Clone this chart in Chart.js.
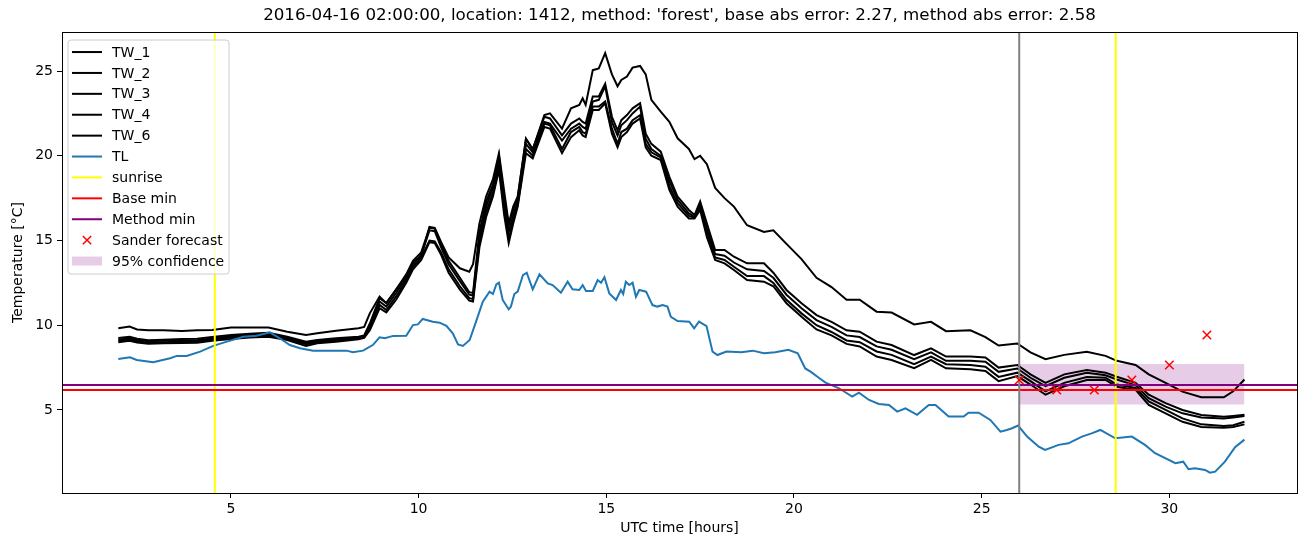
<!DOCTYPE html>
<html>
<head>
<meta charset="utf-8">
<script src="https://cdn.jsdelivr.net/npm/chart.js@4.4.0/dist/chart.umd.min.js"></script>
<style>
  html, body { margin: 0; padding: 0; background: #ffffff; }
  #wrap { width: 1310px; height: 547px; }
</style>
</head>
<body>
<div id="wrap"><canvas id="chart" width="1310" height="547"></canvas></div>
<script>
"use strict";

// ---- data ----
var titleText = "2016-04-16 02:00:00, location: 1412, method: 'forest', base abs error: 2.27, method abs error: 2.58";

var twHours = [2.0, 2.3, 2.5, 2.8, 3.2, 3.7, 4.1, 4.5, 5.0, 5.5,
  6.0, 6.5, 7.0, 7.3, 7.8, 8.4, 8.55, 8.7, 8.96, 9.14,
  9.4, 9.67, 9.85, 10.07, 10.29, 10.43, 10.6, 10.8, 11.1, 11.35,
  11.45, 11.62, 11.8, 11.98, 12.14, 12.28, 12.4, 12.52, 12.64, 12.86,
  13.04, 13.35, 13.5, 13.82, 14.06, 14.28, 14.37, 14.45, 14.64, 14.8,
  14.97, 15.15, 15.3, 15.4, 15.55, 15.7, 15.9, 16.05, 16.2, 16.45,
  16.68, 16.9, 17.2, 17.35, 17.5, 17.68, 17.9, 18.15, 18.4, 18.75,
  19.2, 19.45, 19.8, 20.2, 20.6, 21.0, 21.4, 21.75, 22.2, 22.6,
  23.2, 23.65, 24.05, 24.7, 25.1, 25.45, 25.95, 26.3, 26.7, 27.2,
  27.8, 28.3, 28.6, 29.1, 29.45, 29.9, 30.35, 30.85, 31.45, 31.7, 32.0];

var tw1 = [9.82, 9.92, 9.75, 9.7, 9.7, 9.66, 9.7, 9.72, 9.86, 9.86,
  9.86, 9.62, 9.42, 9.52, 9.68, 9.82, 9.9, 10.7, 11.69, 11.3,
  12.1, 12.9, 13.7, 14.1, 15.8, 15.75, 14.9, 14.0, 13.36, 13.16,
  13.6, 16.0, 17.6, 18.6, 20.14, 17.9, 16.0, 17.0, 17.6, 21.0,
  20.35, 22.4, 22.5, 21.6, 22.8, 23.0, 23.39, 23.0, 25.05, 25.15,
  26.05, 24.8, 24.1, 24.47, 24.67, 25.2, 25.3, 24.8, 23.3, 22.6,
  22.0, 21.03, 20.4, 19.8, 20.0, 19.5, 18.1, 17.5, 17.0, 15.9,
  15.5, 15.6, 14.8, 13.9, 12.8, 12.25, 11.5, 11.5, 10.8, 10.75,
  10.05, 10.2, 9.65, 9.7, 9.3, 8.8, 8.92, 8.4, 8.0, 8.25,
  8.44, 8.19, 7.9, 7.65, 7.1, 6.6, 6.08, 5.75, 5.75, 6.1, 6.8];

var tw2 = [9.25, 9.32, 9.2, 9.12, 9.15, 9.18, 9.2, 9.3, 9.42, 9.5,
  9.56, 9.32, 9.03, 9.13, 9.23, 9.32, 9.4, 10.1, 11.6, 11.3,
  12.1, 13.0, 13.8, 14.3, 15.75, 15.7, 14.8, 13.8, 12.8, 11.95,
  11.9, 15.5, 17.3, 18.3, 20.0, 17.5, 15.9, 16.8, 17.5, 21.0,
  20.4, 22.3, 22.2, 21.2, 21.9, 22.2, 22.0, 21.9, 23.5, 23.5,
  24.25, 22.3, 21.5, 22.1, 22.4, 22.8, 23.1, 21.3, 20.7, 20.24,
  18.76, 17.58, 16.8, 16.5, 17.3, 16.0, 14.44, 14.44, 14.04, 13.65,
  13.65, 13.1, 12.08, 11.3, 10.6, 10.2, 9.7, 9.62, 9.03, 8.83,
  8.24, 8.64, 8.15, 8.15, 8.1, 7.5, 7.65, 7.1, 6.6, 7.1,
  7.36, 7.2, 6.96, 6.6, 5.9, 5.4, 5.0, 4.7, 4.6, 4.65, 4.72];

var tw3 = [9.15, 9.25, 9.12, 9.05, 9.08, 9.1, 9.12, 9.22, 9.35, 9.42,
  9.48, 9.26, 8.96, 9.06, 9.16, 9.27, 9.35, 9.95, 11.4, 11.1,
  11.9, 12.8, 13.6, 14.15, 15.6, 15.55, 14.6, 13.6, 12.6, 11.8,
  11.75, 15.2, 17.0, 18.1, 19.7, 17.2, 15.5, 16.5, 17.3, 20.7,
  20.2, 22.0, 21.9, 20.9, 21.6, 21.9, 21.7, 21.6, 23.2, 23.3,
  24.1, 22.0, 21.2, 21.8, 22.1, 22.5, 22.9, 21.0, 20.4, 20.0,
  18.5, 17.4, 16.6, 16.4, 17.1, 15.7, 14.2, 14.1, 13.7, 13.3,
  13.2, 12.8, 11.8, 11.0, 10.3, 9.9, 9.4, 9.3, 8.75, 8.55,
  8.0, 8.4, 7.9, 7.9, 7.85, 7.25, 7.45, 6.9, 6.4, 6.9,
  7.2, 7.05, 6.8, 6.45, 5.7, 5.2, 4.8, 4.55, 4.5, 4.55, 4.65];

var tw4 = [9.08, 9.15, 9.05, 8.97, 9.0, 9.03, 9.05, 9.15, 9.27, 9.35,
  9.4, 9.2, 8.88, 9.0, 9.1, 9.22, 9.3, 9.85, 11.2, 10.9,
  11.7, 12.65, 13.45, 14.0, 15.0, 14.95, 14.3, 13.3, 12.3, 11.6,
  11.55, 14.9, 16.7, 17.8, 19.4, 16.8, 15.1, 16.2, 17.1, 20.4,
  20.0, 21.9, 21.8, 20.4, 21.4, 21.7, 21.4, 21.3, 22.9, 22.9,
  23.2, 21.6, 20.7, 21.4, 21.6, 22.1, 22.4, 20.7, 20.2, 19.9,
  18.2, 17.2, 16.45, 16.35, 17.0, 15.5, 14.0, 13.85, 13.45, 12.9,
  12.9, 12.5, 11.5, 10.7, 10.0, 9.6, 9.1, 9.0, 8.45, 8.25,
  7.7, 8.15, 7.7, 7.65, 7.55, 6.95, 7.2, 6.7, 6.1, 6.6,
  6.95, 6.9, 6.5, 6.3, 5.5, 5.0, 4.5, 4.15, 4.05, 4.1, 4.3];

var tw6 = [9.0, 9.08, 8.98, 8.9, 8.93, 8.95, 8.97, 9.08, 9.18, 9.28,
  9.32, 9.13, 8.78, 8.93, 9.03, 9.17, 9.25, 9.7, 11.0, 10.75,
  11.5, 12.5, 13.3, 13.85, 14.9, 14.85, 14.15, 13.1, 12.1, 11.45,
  11.4, 14.6, 16.4, 17.6, 19.16, 16.5, 14.85, 16.0, 17.0, 20.15,
  19.85, 21.7, 21.6, 20.15, 21.1, 21.5, 21.2, 21.1, 22.7, 22.7,
  23.1, 21.3, 20.5, 21.1, 21.4, 21.9, 22.2, 20.5, 20.0, 19.75,
  17.98, 17.0, 16.3, 16.3, 16.8, 15.2, 13.85, 13.65, 13.26, 12.67,
  12.57, 12.3, 11.3, 10.5, 9.75, 9.4, 8.9, 8.75, 8.15, 7.95,
  7.46, 7.95, 7.46, 7.4, 7.3, 6.7, 7.0, 6.5, 5.9, 6.4,
  6.77, 6.77, 6.37, 6.18, 5.3, 4.8, 4.3, 4.0, 3.95, 4.0, 4.15];

var tlHours = [2.0, 2.31, 2.49, 2.93, 3.38, 3.56, 3.82, 4.18, 4.53, 4.89,
  5.33, 5.68, 6.04, 6.3, 6.57, 6.84, 7.19, 8.08, 8.25, 8.52,
  8.78, 8.96, 9.1, 9.32, 9.67, 9.85, 9.98, 10.11, 10.38, 10.56,
  10.74, 10.91, 11.05, 11.18, 11.36, 11.53, 11.71, 11.89, 11.98, 12.07,
  12.14, 12.24, 12.4, 12.46, 12.55, 12.64, 12.78, 12.88, 13.04, 13.22,
  13.44, 13.57, 13.79, 13.97, 14.1, 14.28, 14.37, 14.46, 14.64, 14.77,
  14.86, 14.95, 15.08, 15.26, 15.39, 15.45, 15.52, 15.61, 15.7, 15.79,
  15.88, 16.06, 16.23, 16.36, 16.5, 16.63, 16.72, 16.9, 17.21, 17.34,
  17.47, 17.67, 17.83, 17.96, 18.2, 18.6, 18.9, 19.2, 19.5, 19.85,
  20.1, 20.3, 20.45, 20.66, 20.84, 21.2, 21.55, 21.73, 22.0, 22.26,
  22.53, 22.75, 22.97, 23.28, 23.59, 23.77, 24.12, 24.52, 24.65, 24.92,
  25.23, 25.5, 25.67, 25.81, 25.97, 26.21, 26.52, 26.69, 27.05, 27.31,
  27.67, 27.93, 28.16, 28.56, 29.0, 29.35, 29.62, 30.16, 30.37, 30.51,
  30.68, 30.95, 31.08, 31.22, 31.48, 31.75, 32.0];

var tlValues = [8.01, 8.11, 7.95, 7.81, 8.05, 8.19, 8.19, 8.44, 8.78, 9.03,
  9.32, 9.38, 9.58, 9.23, 8.83, 8.64, 8.5, 8.5, 8.4, 8.5,
  8.83, 9.29, 9.23, 9.37, 9.38, 10.01, 10.05, 10.37, 10.21, 10.15,
  9.96, 9.52, 8.87, 8.78, 9.13, 10.21, 11.39, 11.98, 11.84, 12.41,
  12.51, 11.49, 10.94, 11.1, 11.84, 11.98, 12.96, 13.1, 12.12, 13.0,
  12.47, 12.37, 11.92, 12.57, 12.12, 12.08, 12.37, 12.02, 12.02, 12.67,
  12.51, 12.83, 11.88, 11.49, 12.08, 11.84, 12.57, 12.37, 12.51, 11.68,
  12.08, 11.98, 11.19, 11.1, 11.19, 11.1, 10.5, 10.25, 10.21, 9.82,
  10.21, 9.95, 8.44, 8.24, 8.45, 8.4, 8.5, 8.35, 8.4, 8.55,
  8.35, 7.45, 7.25, 6.9, 6.61, 6.28, 5.79, 6.02, 5.59, 5.35,
  5.29, 4.9, 5.1, 4.71, 5.29, 5.29, 4.61, 4.61, 4.84, 4.84,
  4.41, 3.72, 3.82, 3.92, 4.08, 3.43, 2.83, 2.64, 2.94, 3.03,
  3.43, 3.62, 3.82, 3.33, 3.43, 2.94, 2.45, 1.86, 1.95, 1.5,
  1.56, 1.46, 1.3, 1.36, 1.95, 2.8, 3.25];

var sunriseHours = [4.57, 28.57];
var forecastStartHour = 26.0;
var baseMin = 6.18;
var methodMin = 6.47;

var sanderHours = [26, 27, 28, 29, 30, 31];
var sanderValues = [6.77, 6.18, 6.18, 6.77, 7.65, 9.42];

var confidenceHours = [26, 32];
var confidenceLow = 5.32;
var confidenceHigh = 7.71;

var xTicks = [5, 10, 15, 20, 25, 30];
var yTicks = [5, 10, 15, 20, 25];
var xRange = [0.5, 33.4];
var yRange = [0.1, 27.3];

// ---- styling ----
var FONT = "DejaVu Sans";
var BAND_COLOR = "rgba(128, 0, 128, 0.2)";

function pairs(xs, ys) {
  return xs.map(function (x, i) { return { x: x, y: ys[i] }; });
}

function vline(h) {
  return [{ x: h, y: yRange[0] }, { x: h, y: yRange[1] }];
}

function hline(v) {
  return [{ x: xRange[0], y: v }, { x: xRange[1], y: v }];
}

function lineSet(label, data, color, order) {
  return {
    label: label,
    data: data,
    borderColor: color,
    backgroundColor: color,
    borderWidth: 2,
    pointRadius: 0,
    fill: false,
    tension: 0,
    order: order,
  };
}

var datasets = [
  {
    label: "Sander forecast",
    data: pairs(sanderHours, sanderValues),
    showLine: false,
    pointStyle: "crossRot",
    pointRadius: 6,
    pointBorderWidth: 1.5,
    borderColor: "#ff0000",
    backgroundColor: "#ff0000",
    order: 0,
  },
  lineSet("forecast start", vline(forecastStartHour), "#808080", 1),
  lineSet("Method min", hline(methodMin), "#800080", 2),
  lineSet("Base min", hline(baseMin), "#ff0000", 3),
  lineSet("sunrise", vline(sunriseHours[0]), "#ffff00", 4),
  lineSet("sunrise 2", vline(sunriseHours[1]), "#ffff00", 4),
  lineSet("TL", pairs(tlHours, tlValues), "#1f77b4", 5),
  lineSet("TW_6", pairs(twHours, tw6), "#000000", 6),
  lineSet("TW_4", pairs(twHours, tw4), "#000000", 7),
  lineSet("TW_3", pairs(twHours, tw3), "#000000", 8),
  lineSet("TW_2", pairs(twHours, tw2), "#000000", 9),
  lineSet("TW_1", pairs(twHours, tw1), "#000000", 10),
  {
    label: "95% confidence",
    data: pairs(confidenceHours, [confidenceHigh, confidenceHigh]),
    borderWidth: 0,
    borderColor: "rgba(0,0,0,0)",
    backgroundColor: BAND_COLOR,
    pointRadius: 0,
    fill: { value: confidenceLow },
    order: 11,
  },
];

var legendItems = [
  { label: "TW_1", kind: "line", color: "#000000" },
  { label: "TW_2", kind: "line", color: "#000000" },
  { label: "TW_3", kind: "line", color: "#000000" },
  { label: "TW_4", kind: "line", color: "#000000" },
  { label: "TW_6", kind: "line", color: "#000000" },
  { label: "TL", kind: "line", color: "#1f77b4" },
  { label: "sunrise", kind: "line", color: "#ffff00" },
  { label: "Base min", kind: "line", color: "#ff0000" },
  { label: "Method min", kind: "line", color: "#800080" },
  { label: "Sander forecast", kind: "cross", color: "#ff0000" },
  { label: "95% confidence", kind: "patch", color: BAND_COLOR },
];

// frame round the plot area and the matplotlib style legend box
var framePlugin = {
  id: "frameAndLegend",
  afterDraw: function (chart) {
    var ctx = chart.ctx;
    var a = chart.chartArea;
    ctx.save();
    ctx.strokeStyle = "#000000";
    ctx.lineWidth = 1;
    ctx.strokeRect(Math.round(a.left) + 0.5, Math.round(a.top) + 0.5,
      Math.round(a.right - a.left), Math.round(a.bottom - a.top));

    // legend
    var bx = a.left + 6, by = a.top + 8, bw = 161, bh = 234, r = 3;
    ctx.beginPath();
    ctx.moveTo(bx + r, by);
    ctx.arcTo(bx + bw, by, bx + bw, by + bh, r);
    ctx.arcTo(bx + bw, by + bh, bx, by + bh, r);
    ctx.arcTo(bx, by + bh, bx, by, r);
    ctx.arcTo(bx, by, bx + bw, by, r);
    ctx.closePath();
    ctx.fillStyle = "rgba(255,255,255,0.8)";
    ctx.fill();
    ctx.strokeStyle = "#cccccc";
    ctx.lineWidth = 1;
    ctx.stroke();

    ctx.font = "14px '" + FONT + "'";
    ctx.textBaseline = "middle";
    ctx.textAlign = "left";
    var x0 = bx + 4, x1 = bx + 34, tx = bx + 44;
    legendItems.forEach(function (item, i) {
      var y = by + 12 + i * 20.9;
      if (item.kind === "line") {
        ctx.strokeStyle = item.color;
        ctx.lineWidth = 2;
        ctx.beginPath();
        ctx.moveTo(x0, y);
        ctx.lineTo(x1, y);
        ctx.stroke();
      } else if (item.kind === "cross") {
        var cx = (x0 + x1) / 2, d = 4.2;
        ctx.strokeStyle = item.color;
        ctx.lineWidth = 1.5;
        ctx.beginPath();
        ctx.moveTo(cx - d, y - d);
        ctx.lineTo(cx + d, y + d);
        ctx.moveTo(cx - d, y + d);
        ctx.lineTo(cx + d, y - d);
        ctx.stroke();
      } else {
        ctx.fillStyle = item.color;
        ctx.fillRect(x0, y - 4.5, x1 - x0, 9);
      }
      ctx.fillStyle = "#000000";
      ctx.fillText(item.label, tx, y + 1);
    });
    ctx.restore();
  },
};

var ctx = document.getElementById("chart").getContext("2d");
var chart = new Chart(ctx, {
  type: "line",
  data: { datasets: datasets },
  plugins: [framePlugin],
  options: {
    responsive: false,
    animation: false,
    devicePixelRatio: 1,
    layout: { padding: { top: 2, right: 13, left: 0, bottom: 0 } },
    plugins: {
      legend: { display: false },
      tooltip: { enabled: false },
      title: {
        display: true,
        text: titleText,
        fullSize: false,
        color: "#000000",
        font: { family: FONT, size: 16.7, weight: "normal" },
        padding: { top: 4, bottom: 6 },
      },
    },
    scales: {
      x: {
        type: "linear",
        min: xRange[0],
        max: xRange[1],
        afterBuildTicks: function (axis) {
          axis.ticks = xTicks.map(function (v) { return { value: v }; });
        },
        afterFit: function (scale) { scale.height = 54; },
        ticks: {
          color: "#000000",
          font: { family: FONT, size: 14 },
          padding: 3,
          maxRotation: 0,
          autoSkip: false,
        },
        grid: { drawOnChartArea: false, drawTicks: true, tickLength: 5, color: "#000000" },
        border: { display: false },
        title: {
          display: true,
          text: "UTC time [hours]",
          color: "#000000",
          font: { family: FONT, size: 14 },
          padding: { top: 0, bottom: 10 },
        },
      },
      y: {
        type: "linear",
        min: yRange[0],
        max: yRange[1],
        afterBuildTicks: function (axis) {
          axis.ticks = yTicks.map(function (v) { return { value: v }; });
        },
        afterFit: function (scale) { scale.width = 62; },
        ticks: {
          color: "#000000",
          font: { family: FONT, size: 14 },
          padding: 4,
          autoSkip: false,
        },
        grid: { drawOnChartArea: false, drawTicks: true, tickLength: 5, color: "#000000" },
        border: { display: false },
        title: {
          display: true,
          text: "Temperature [°C]",
          color: "#000000",
          font: { family: FONT, size: 14 },
          padding: { top: 10, bottom: 0 },
        },
      },
    },
  },
});
</script>
</body>
</html>
